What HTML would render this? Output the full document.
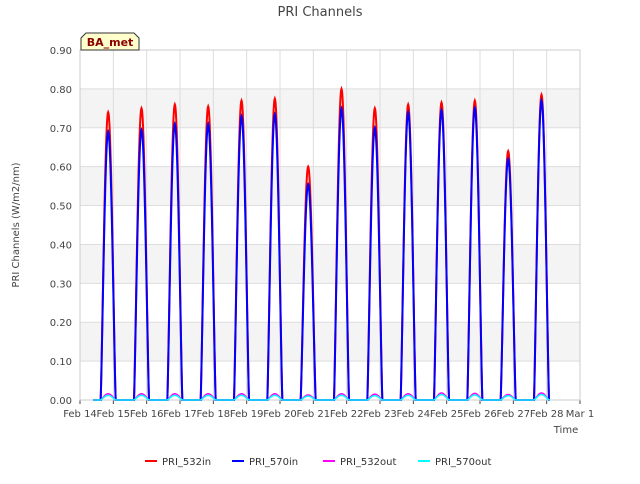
<!DOCTYPE html>
<html><head><meta charset="utf-8"><style>
body{margin:0;background:#fff;font-family:"DejaVu Sans","Liberation Sans",sans-serif}
</style></head><body>
<svg width="640" height="480" viewBox="0 0 640 480" id="svg" font-family="DejaVu Sans, Liberation Sans, sans-serif">
<rect width="640" height="480" fill="#fff"/>
<text x="320" y="16" text-anchor="middle" font-size="13" fill="#444">PRI Channels</text>
<g id="grid"></g>
<g id="axes"></g>
<g id="series"></g>
<text x="19" y="225" transform="rotate(-90 19 225)" text-anchor="middle" font-size="10" fill="#444">PRI Channels (W/m2/nm)</text>
<text x="566" y="433" text-anchor="middle" font-size="10" fill="#444">Time</text>
<g>
<path d="M81,50 L81,38 L86,33 L134,33 L139,38 L139,50 Z" fill="#ffffcc" stroke="#333"/>
<text x="110" y="46" text-anchor="middle" font-size="11" font-weight="bold" fill="#8b0000">BA_met</text>
</g>
<g id="legend"></g>
</svg>
<script>
const dayLabels=["Feb 14","Feb 15","Feb 16","Feb 17","Feb 18","Feb 19","Feb 20","Feb 21","Feb 22","Feb 23","Feb 24","Feb 25","Feb 26","Feb 27","Feb 28","Mar 1"];
const yTicks=[0,0.1,0.2,0.3,0.4,0.5,0.6,0.7,0.8,0.9];
const peak532in=[0.74,0.75,0.76,0.755,0.77,0.775,0.60,0.80,0.75,0.76,0.765,0.77,0.64,0.785];
const peak570in=[0.69,0.695,0.71,0.71,0.73,0.735,0.555,0.75,0.70,0.74,0.745,0.75,0.62,0.77];
const peak532out=[0.016,0.016,0.016,0.016,0.016,0.016,0.013,0.016,0.015,0.016,0.018,0.017,0.014,0.018];
const peak570out=[0.012,0.012,0.012,0.012,0.012,0.012,0.010,0.012,0.011,0.012,0.014,0.013,0.011,0.014];
const seriesNames=["PRI_532in","PRI_570in","PRI_532out","PRI_570out"];
const colors=["#ff0000","#0000ff","#ff00ff","#00ffff"];
const NS="http://www.w3.org/2000/svg";
const X0=80,X1=580,Y0=400,Y1=50;
const xs=d=>X0+(X1-X0)*d/15;
const ys=v=>Y0-(Y0-Y1)*v/0.9;
function mk(t,a,p){const e=document.createElementNS(NS,t);for(const k in a)e.setAttribute(k,a[k]);p.appendChild(e);return e;}
const grid=document.getElementById('grid'),axes=document.getElementById('axes'),ser=document.getElementById('series'),leg=document.getElementById('legend');
for(let i=0;i<yTicks.length-1;i++){ if(i%2===1){const r=mk('rect',{x:X0,y:ys(yTicks[i+1]),width:X1-X0,height:ys(yTicks[i])-ys(yTicks[i+1]),fill:'#f4f4f4'},grid);}}
yTicks.forEach(v=>{const l=mk('line',{x1:X0,x2:X1,y1:ys(v),y2:ys(v),stroke:'#ddd'},grid);
const t=mk('text',{x:X0-8,y:ys(v)+4,'text-anchor':'end','font-size':10,fill:'#444'},axes);t.textContent=v.toFixed(2);});
dayLabels.forEach((s,i)=>{const l=mk('line',{x1:xs(i),x2:xs(i),y1:Y1,y2:Y0,stroke:'#ddd'},grid);
mk('line',{x1:xs(i),x2:xs(i),y1:Y0,y2:Y0+4,stroke:'#444'},axes);
const t=mk('text',{x:xs(i),y:Y0+17,'text-anchor':'middle','font-size':10,fill:'#444'},axes);t.textContent=s;});
mk('rect',{x:X0,y:Y1,width:X1-X0,height:Y0-Y1,fill:'none',stroke:'#ccc'},axes);
const sets=[peak532in,peak570in,peak532out,peak570out];
sets.forEach((pk,si)=>{let d='';
  d+='M'+xs(0.4)+','+ys(0);
  pk.forEach((p,i)=>{const st=i+0.62,w=0.45;
    d+=' L'+xs(st).toFixed(2)+','+ys(0);
    for(let k=0;k<=40;k++){const t=st+w*k/40;const v=p*Math.pow(Math.sin(Math.PI*k/40),1.2);d+=' L'+xs(t).toFixed(2)+','+ys(v).toFixed(2);}
  });
  d+=' L'+xs(14.1)+','+ys(0);
  const p=mk('path',{d:d,fill:'none',stroke:colors[si],'stroke-width':si<2?2:1.5},ser);
  
});
const lx=[145,232,323,418];
seriesNames.forEach((n,i)=>{const g=mk('g',{},leg);
mk('line',{x1:lx[i],x2:lx[i]+12,y1:461,y2:461,stroke:colors[i],'stroke-width':2},g);
const t=mk('text',{x:lx[i]+17,y:465,'font-size':10,fill:'#333'},g);t.textContent=n;});
</script>
</body></html>
